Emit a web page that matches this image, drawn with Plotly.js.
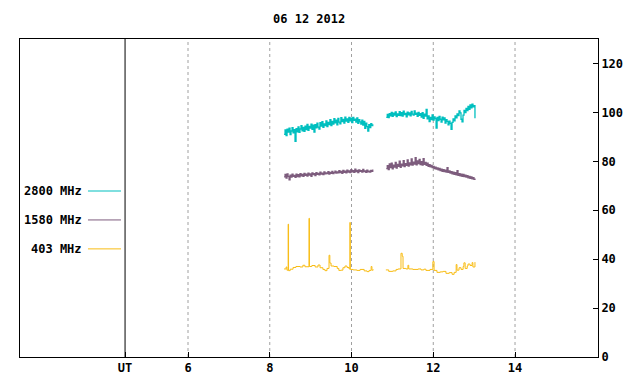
<!DOCTYPE html>
<html><head><meta charset="utf-8">
<script src="https://cdn.plot.ly/plotly-3.0.1.min.js"></script>
<style>html,body{margin:0;padding:0;background:#fff}#chart{width:640px;height:384px}</style>
</head><body><div id="chart"></div>
<script>
// ---- data (UT hours, flux) ----
const seg1Start = 8.35, seg1End = 10.52;
const seg2Start = 10.85, seg2End = 13.02;

const f2800a = [91.0,92.8,90.5,93.1,91.9,93.6,90.9,92.4,93.8,91.6,92.9,88.2,93.4,92.0,94.1,91.8,93.2,94.6,92.5,93.9,92.2,94.4,93.0,95.1,92.7,94.3,93.6,95.2,93.1,94.8,91.9,95.0,93.7,95.6,94.0,93.2,95.8,94.4,96.2,93.9,95.3,94.6,96.5,94.2,95.9,95.0,97.0,94.6,96.3,95.2,97.4,95.7,96.8,94.9,97.5,96.0,95.3,97.8,96.2,97.1,95.6,98.1,96.4,97.3,95.9,97.9,96.5,97.6,95.8,98.0,96.7,97.2,96.0,97.7,95.5,97.0,96.1,95.2,96.8,94.8,96.3,93.5,95.6,94.2,92.4,95.0,93.8,95.4,94.6,95.1];
const f2800b = [98.0,99.2,97.9,99.5,98.6,100.0,98.4,99.7,98.9,100.2,98.3,99.4,98.8,100.3,98.7,99.9,98.5,100.5,99.1,99.6,98.2,100.1,99.0,99.8,98.6,100.4,99.3,98.9,100.6,99.2,99.7,98.4,100.0,98.8,99.5,98.1,99.9,97.6,99.3,98.5,101.2,97.4,98.6,96.2,98.0,97.1,99.0,96.8,98.2,97.5,93.6,97.9,96.6,98.4,97.2,96.0,98.1,96.9,97.7,95.6,97.0,96.3,94.9,96.4,95.5,93.1,95.9,97.3,96.5,98.6,97.8,99.4,98.7,100.6,99.8,97.2,96.1,98.9,100.8,99.9,101.6,100.7,102.4,101.2,103.1,101.9,103.4,102.3,102.8,97.6];
const f1580a = [73.6,74.6,73.1,74.9,73.8,72.4,74.3,73.5,74.7,73.9,74.2,73.4,74.8,73.7,74.5,73.6,75.0,74.1,74.6,73.8,75.1,74.3,74.8,74.0,75.2,74.4,74.9,73.9,75.3,74.6,75.0,74.2,75.4,74.7,75.1,74.5,75.6,74.8,75.2,74.6,75.7,74.9,75.3,75.0,75.8,74.8,75.5,75.1,75.9,75.0,75.4,76.0,75.2,75.7,75.3,76.2,75.4,75.9,75.1,76.3,75.5,76.0,75.3,76.4,75.6,76.1,75.4,76.6,75.7,76.2,75.5,76.8,75.8,76.3,75.4,76.5,75.9,76.2,75.6,76.7,75.8,76.1,75.5,76.4,75.7,76.0,75.6,76.3,75.9,76.6];
const f1580b = [77.0,78.2,76.6,78.9,77.4,79.2,76.9,78.4,77.6,79.6,77.2,78.7,77.9,80.1,77.5,78.8,78.1,80.3,77.8,79.0,78.3,80.6,78.0,79.4,78.6,81.0,78.4,79.7,78.9,81.5,78.6,80.2,79.1,80.8,78.7,79.9,78.5,81.1,78.8,79.6,78.3,79.2,77.9,78.6,77.7,78.3,77.4,77.9,77.0,77.6,76.8,77.3,76.5,77.1,76.2,76.8,75.9,76.6,75.8,76.4,75.6,77.4,75.5,76.1,75.2,75.8,74.9,75.6,74.7,75.4,74.5,76.2,74.3,75.0,74.1,74.8,73.9,74.6,73.7,74.3,73.5,74.1,73.2,73.8,73.0,73.6,72.8,73.3,72.6,73.0];

const t403a = [8.35,8.40,8.42,8.45,8.46,8.50,8.57,8.64,8.74,8.81,8.86,8.96,8.97,9.03,9.11,9.18,9.23,9.30,9.35,9.40,9.45,9.47,9.50,9.57,9.65,9.69,9.74,9.79,9.84,9.89,9.94,9.96,9.97,10.04,10.13,10.21,10.31,10.38,10.43,10.48,10.50,10.53];
const f403a = [36.0,36.8,35.5,54.3,35.3,35.9,36.6,37.0,36.8,37.5,36.9,56.7,37.0,37.4,36.8,37.6,36.5,35.8,35.3,36.2,41.6,38.4,37.2,37.0,36.2,35.4,35.5,36.5,37.2,36.6,36.0,55.0,35.8,35.6,35.4,35.8,35.2,34.9,35.4,37.0,35.5,35.8];
const t403b = [10.84,10.91,11.01,11.09,11.14,11.21,11.24,11.26,11.33,11.38,11.40,11.50,11.63,11.70,11.77,11.82,11.92,11.99,12.02,12.09,12.17,12.24,12.31,12.39,12.46,12.51,12.56,12.58,12.63,12.68,12.73,12.75,12.78,12.83,12.85,12.90,12.95,12.97,13.02];
const f403b = [35.6,35.0,35.2,35.8,36.0,42.4,41.2,36.2,36.0,37.5,36.0,35.8,36.0,35.6,35.9,35.4,35.8,39.0,35.4,34.6,34.8,35.0,34.2,34.5,33.8,34.6,37.8,35.5,36.5,35.8,37.0,38.5,36.2,37.2,38.0,37.4,38.6,36.8,38.8];

const legendLabels = ['2800 MHz','1580 MHz','403 MHz'];
const xTickVals = [4.46,6,8,10,12,14];
const xTickText = ['UT','6','8','10','12','14'];
const yTickVals = [0,20,40,60,80,100,120];

// ---- build ----
function spread(vals, a, b){ const n = vals.length; return vals.map((_,i)=> a + (b-a)*i/(n-1)); }
function joinSeg(xa, ya, xb, yb){ return {x: xa.concat([null], xb), y: ya.concat([null], yb)}; }

const cTeal = '#00BFBF', cPurple = '#7D5C7D', cOrange = '#F8BC14';
const s2800 = joinSeg(spread(f2800a,seg1Start,seg1End), f2800a, spread(f2800b,seg2Start,seg2End), f2800b);
const s1580 = joinSeg(spread(f1580a,seg1Start,seg1End), f1580a, spread(f1580b,seg2Start,seg2End), f1580b);
const s403 = joinSeg(t403a, f403a, t403b, f403b);

const traces = [
  {x:s2800.x, y:s2800.y, mode:'lines', line:{color:cTeal,width:1.3,shape:'hv'}, name:legendLabels[0], connectgaps:false},
  {x:s1580.x, y:s1580.y, mode:'lines', line:{color:cPurple,width:1.3,shape:'hv'}, name:legendLabels[1], connectgaps:false},
  {x:s403.x, y:s403.y, mode:'lines', line:{color:cOrange,width:1,shape:'hv'}, name:legendLabels[2], connectgaps:false}
];

const font = {family:'"DejaVu Sans Mono", monospace', size:12, color:'#000', weight:'bold'};
const legendY = [0.522, 0.431, 0.340];
const legendCol = [cTeal, cPurple, cOrange];
const shapes = [
  {type:'line', xref:'x', yref:'paper', x0:xTickVals[0], x1:xTickVals[0], y0:0, y1:1, line:{color:'#000000',width:1}}
];
const annotations = [];
legendLabels.forEach((lab,i)=>{
  shapes.push({type:'line', xref:'paper', yref:'paper', x0:0.1176, x1:0.1747, y0:legendY[i], y1:legendY[i], line:{color:legendCol[i], width:1}});
  annotations.push({xref:'paper', yref:'paper', x:0.111, y:legendY[i], xanchor:'right', yanchor:'middle', text:lab, showarrow:false, font:font});
});

const layout = {
  width:640, height:384,
  margin:{l:20, r:42, t:39, b:27},
  paper_bgcolor:'#fff', plot_bgcolor:'#fff',
  showlegend:false,
  font:font,
  title:{text:'06 12 2012', font:font, x:0.483, xanchor:'center', y:0.95, yanchor:'middle'},
  xaxis:{range:[1.89,16.03], tickvals:xTickVals, ticktext:xTickText, ticks:'inside', ticklen:5, tickcolor:'#000',
         showgrid:false, zeroline:false, showline:true, linecolor:'#000', linewidth:1, mirror:true, fixedrange:true, tickfont:font},
  yaxis:{range:[0,130], side:'right', tickvals:yTickVals, ticks:'inside', ticklen:5, tickcolor:'#000',
         showgrid:false, zeroline:false, showline:true, linecolor:'#000', linewidth:1, mirror:true, tickfont:font},
  shapes:shapes.concat([6,8,10,12,14].map(v=>({type:'line', xref:'x', yref:'paper', x0:v, x1:v, y0:0, y1:1, layer:'below', line:{color:'#A0A0A0', width:1, dash:'dot'}}))),
  annotations:annotations
};
Plotly.newPlot('chart', traces, layout, {displayModeBar:false, staticPlot:true});
</script></body></html>
